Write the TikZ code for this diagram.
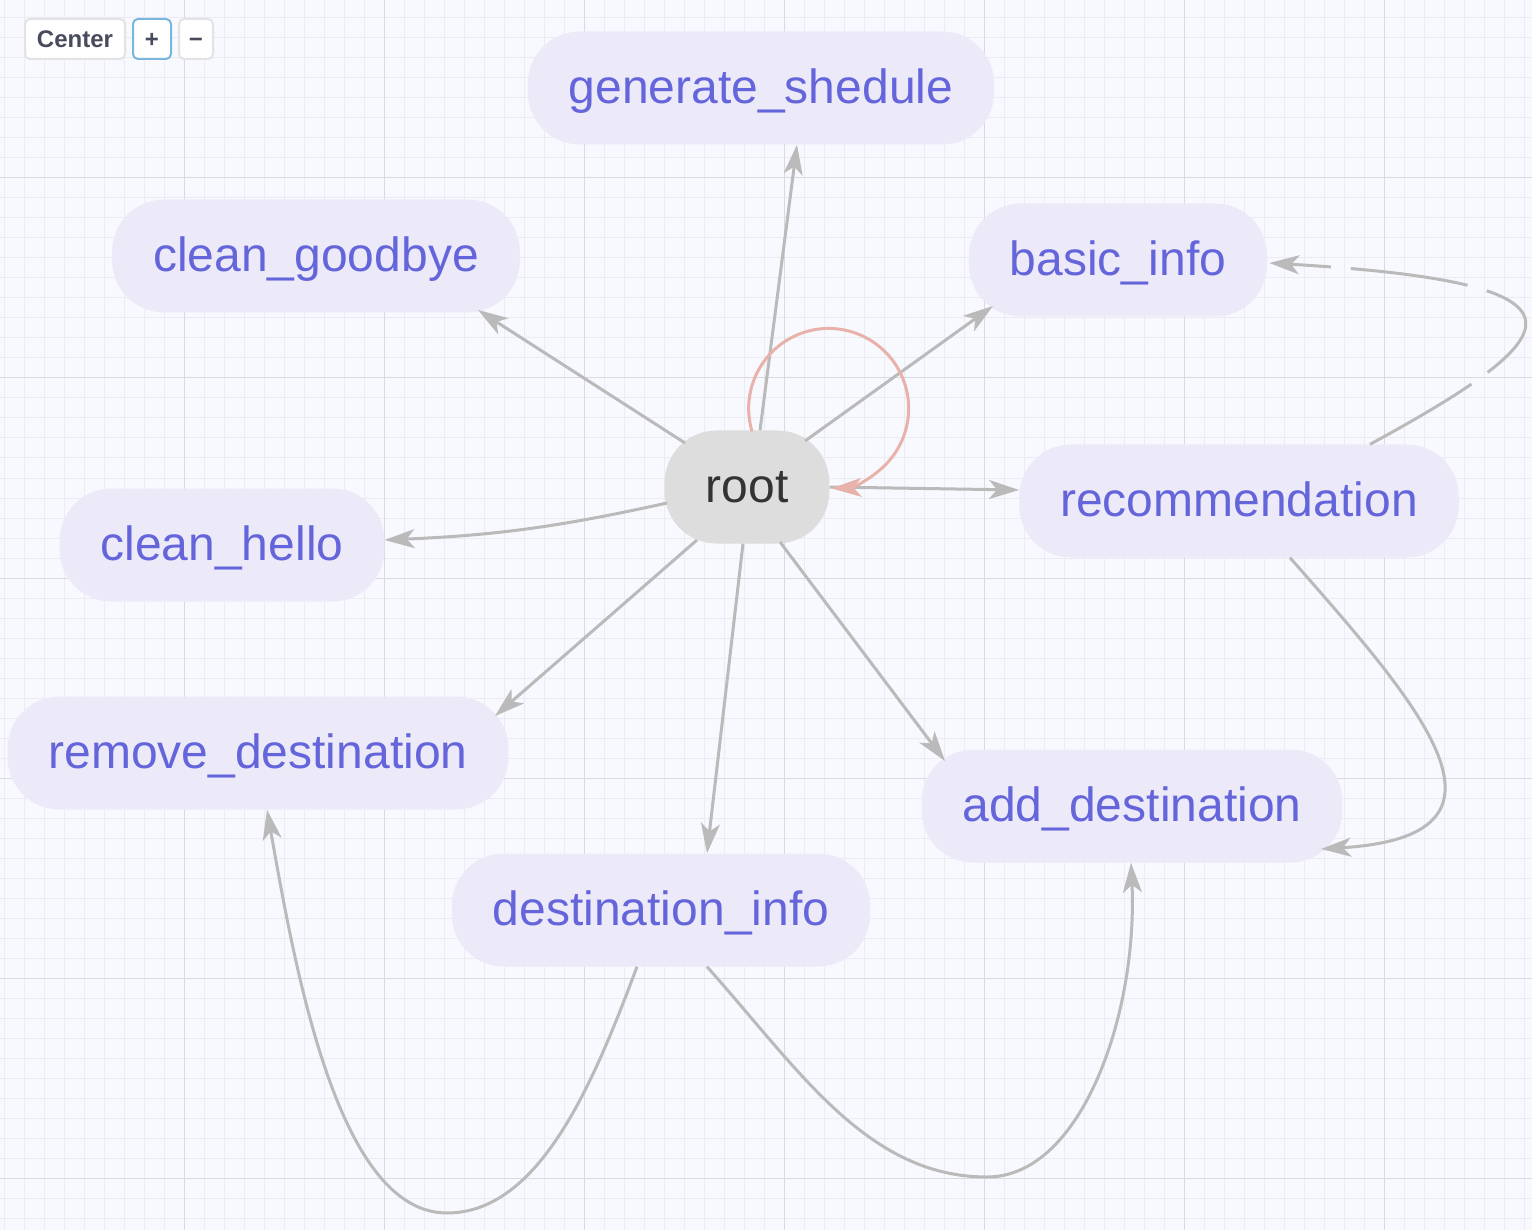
\documentclass[tikz,border=0pt]{standalone}
\usepackage{fontspec}
\setmainfont{Liberation Sans}
\usetikzlibrary{arrows.meta}

\definecolor{canvasbg}{HTML}{F8F9FE}
\definecolor{gridminor}{HTML}{EBECF2}
\definecolor{gridmajor}{HTML}{D9DAE0}
\definecolor{statefill}{HTML}{ECEAF8}
\definecolor{statetext}{HTML}{6565DB}
\definecolor{rootfill}{HTML}{DDDDDD}
\definecolor{roottext}{HTML}{333333}
\definecolor{edgegray}{HTML}{BABABA}
\definecolor{loopred}{HTML}{E8B2AA}
\definecolor{btnborder}{HTML}{E3E3E6}
\definecolor{btnblue}{HTML}{7AB6DC}
\definecolor{btntext}{HTML}{474B5C}

\tikzset{
    state/.style={rectangle, rounded corners=52pt, fill=statefill, text=statetext,
        minimum height=113pt, inner xsep=41pt, inner ysep=0pt,
        text height=40pt, text depth=9pt, font=\fontsize{48}{58}\selectfont},
    rootstate/.style={state, fill=rootfill, text=roottext},
    edge/.style={draw=edgegray, line width=3pt,
        -{Stealth[length=30pt,width=19pt,inset=8pt]}},
    dashedge/.style={edge, dash pattern=on 118pt off 20pt},
    selfloop/.style={draw=loopred, line width=3pt,
        -{Stealth[length=30pt,width=19pt,inset=8pt]}},
    btn/.style={rectangle, rounded corners=5pt, fill=white, draw=btnborder,
        line width=2pt, text=btntext, minimum height=40pt, inner sep=0pt,
        text height=20pt, text depth=2pt, font=\fontsize{24}{28}\bfseries\selectfont}
}

\begin{document}
\begin{tikzpicture}[x=1pt,y=-1pt]
    \useasboundingbox (0,0) rectangle (1532,1230);
    \fill[canvasbg] (0,0) rectangle (1532,1230);
    % grid
    \foreach \x in {4,24,...,1524}
        \draw[gridminor, line width=1pt] (\x,0) -- (\x,1230);
    \foreach \y in {18,38,...,1218}
        \draw[gridminor, line width=1pt] (0,\y) -- (1532,\y);
    \foreach \x in {184,384,...,1384}
        \draw[gridmajor, line width=1pt] (\x,0) -- (\x,1230);
    \foreach \y in {178,378,...,1178}
        \draw[gridmajor, line width=1pt] (0,\y) -- (1532,\y);

    % controls
    \node[btn, minimum width=100pt] (centerbtn) at (75,39) {Center};
    \node[btn, draw=btnblue, minimum width=38pt] (plusbtn) at (152,39) {+};
    \node[btn, minimum width=34pt] (minusbtn) at (196,39) {−};

    % states
    \node[state] (gen) at (761,88) {generate\_shedule};
    \node[state] (goodbye) at (316,256) {clean\_goodbye};
    \node[state] (basic) at (1118,260) {basic\_info};
    \node[rootstate] (root) at (747,487) {root};
    \node[state] (rec) at (1239,501) {recommendation};
    \node[state] (hello) at (222,545) {clean\_hello};
    \node[state] (remove) at (258,753) {remove\_destination};
    \node[state] (dinfo) at (661,910) {destination\_info};
    \node[state] (add) at (1132,806) {add\_destination};

    \coordinate (lowL) at (447,1213);
    \coordinate (lowR) at (987,1177);

    % transitions
    \draw[edge] ([shift={(13,0)}]root.north) -- ([shift={(36,0)}]gen.south);
    \draw[edge] ([shift={(-62,-44)}]root.center) -- ([shift={(162,54)}]goodbye.center);
    \draw[edge] ([shift={(58,-46)}]root.center) -- ([shift={(-125,46)}]basic.center);
    \draw[edge] (root.east) -- ([shift={(0,-11)}]rec.west);
    \draw[edge] ([shift={(-80,16)}]root.center) to[bend left=5] ([shift={(0,-5)}]hello.east);
    \draw[edge] ([shift={(-50,53)}]root.center) -- ([shift={(237,-37)}]remove.center);
    \draw[edge] ([shift={(-4,0)}]root.south) -- ([shift={(46,0)}]dinfo.north);
    \draw[edge] ([shift={(33,55)}]root.center) -- ([shift={(-187,-45)}]add.center);
    \draw[selfloop] ([shift={(5,1)}]root.north) arc[start angle=196.6, end angle=-88, radius=80pt];
    \draw[dashedge] ([shift={(131,0)}]rec.north) .. controls +(202,-110) and +(340,20) .. ([shift={(2,3)}]basic.east);
    \draw[edge] ([shift={(51,0)}]rec.south) .. controls +(132,150) and +(214,-13) .. ([shift={(189,43)}]add.center);
    \draw[edge] ([shift={(-24,0)}]dinfo.south) .. controls +(-43,115) and +(93,0) .. (lowL)
        .. controls +(-107,0) and +(30,171) .. ([shift={(9,0)}]remove.south);
    \draw[edge] ([shift={(46,0)}]dinfo.south) .. controls +(92,103) and +(-120,0) .. (lowR)
        .. controls +(95,0) and +(7,150) .. ([shift={(-1,0)}]add.south);
\end{tikzpicture}
\end{document}
